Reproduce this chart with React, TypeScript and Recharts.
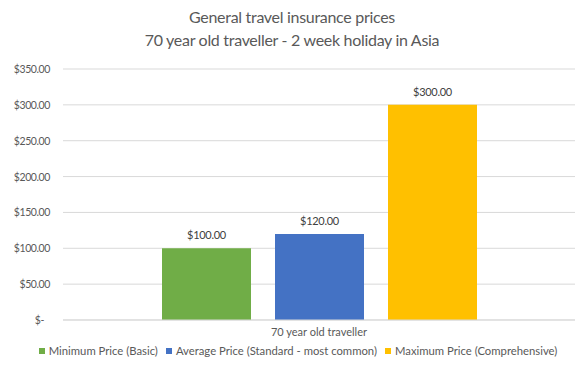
import { Bar, BarChart, CartesianGrid, LabelList, XAxis, YAxis } from 'recharts';

const CATEGORIES = ['70 year old traveller'];
const MIN_PRICE = [100];
const AVG_PRICE = [120];
const MAX_PRICE = [300];
const Y_TICKS = [0, 50, 100, 150, 200, 250, 300, 350];

const SERIES = [
  { key: 'min', label: 'Minimum Price (Basic)', color: '#70AD47' },
  { key: 'avg', label: 'Average Price (Standard - most common)', color: '#4472C4' },
  { key: 'max', label: 'Maximum Price (Comprehensive)', color: '#FFC000' },
];

const data = CATEGORIES.map((name, i) => ({
  name,
  min: MIN_PRICE[i],
  avg: AVG_PRICE[i],
  max: MAX_PRICE[i],
}));

const FONT = 'Lato, "Noto Sans", sans-serif';
const TEXT = '#595959';

const money = (v: number) => (v === 0 ? '$-' : `$${v.toFixed(2)}`);

function YTick(props: any) {
  const { x, y, payload } = props;
  const v = payload.value as number;
  return (
    <text
      x={v === 0 ? x - 6 : x}
      y={y}
      dy={4}
      textAnchor="end"
      fill={TEXT}
      fontSize={10.5}
      letterSpacing={-0.4}
      fontFamily={FONT}
    >
      {money(v)}
    </text>
  );
}

export default function App() {
  return (
    <div style={{ position: 'absolute', left: 0, top: 0, width: 584, height: 365, background: '#fff', fontFamily: FONT }}>
      <div
        style={{
          position: 'absolute',
          top: 5,
          left: 0,
          width: 584,
          textAlign: 'center',
          color: TEXT,
          fontSize: 16,
          letterSpacing: -0.3,
          lineHeight: '23px',
        }}
      >
        General travel insurance prices
        <br />
        70 year old traveller - 2 week holiday in Asia
      </div>
      <BarChart
        width={584}
        height={365}
        data={data}
        margin={{ top: 69, right: 9, bottom: 25, left: 0 }}
        barSize={89}
        barGap={24}
      >
        <CartesianGrid vertical={false} stroke="#d9d9d9" />
        <XAxis
          dataKey="name"
          axisLine={{ stroke: '#d9d9d9' }}
          tickLine={false}
          height={20}
          tick={{ fill: TEXT, fontSize: 11, fontFamily: FONT }}
        />
        <YAxis
          width={63}
          domain={[0, 350]}
          ticks={Y_TICKS}
          axisLine={false}
          tickLine={false}
          tickMargin={7}
          tick={<YTick />}
        />
        {SERIES.map((s) => (
          <Bar key={s.key} dataKey={s.key} fill={s.color} isAnimationActive={false}>
            <LabelList
              dataKey={s.key}
              position="top"
              offset={9}
              formatter={(v: any) => money(Number(v))}
              fill="#404040"
              fontSize={11}
              letterSpacing={-0.3}
              fontFamily={FONT}
            />
          </Bar>
        ))}
      </BarChart>
      <div
        style={{
          position: 'absolute',
          top: 343,
          left: 6,
          width: 584,
          display: 'flex',
          justifyContent: 'center',
          gap: 8,
          color: TEXT,
          fontSize: 11.3,
          lineHeight: '16px',
        }}
      >
        {SERIES.map((s) => (
          <span key={s.key} style={{ display: 'flex', alignItems: 'center', gap: 4 }}>
            <span style={{ display: 'inline-block', width: 6, height: 6, background: s.color }} />
            {s.label}
          </span>
        ))}
      </div>
    </div>
  );
}
